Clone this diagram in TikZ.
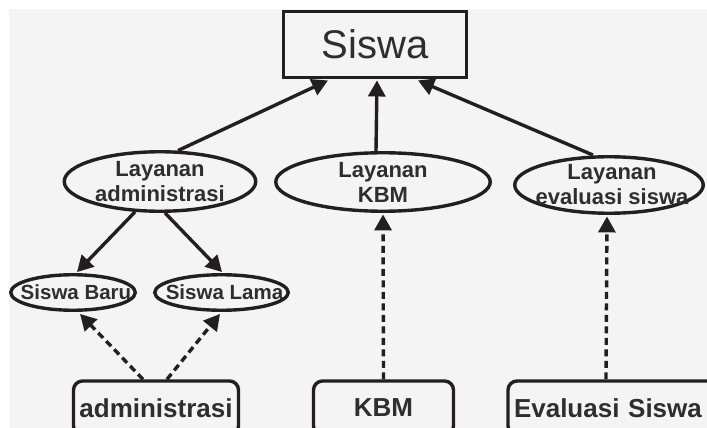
\documentclass[tikz,border=0pt]{standalone}
\usepackage{fontspec}
\setmainfont{Liberation Sans}
\usetikzlibrary{arrows.meta,shapes.geometric,calc}
\definecolor{bg}{HTML}{F4F4F4}
\definecolor{ink}{HTML}{231F20}
\definecolor{txt}{HTML}{2E2E2E}
\begin{document}
\begin{tikzpicture}[x=1pt,y=-1pt,
  thickline/.style={draw=ink, line width=3.4pt},
  arr/.style={thickline, -{Triangle[length=16pt,width=17pt]}},
  darr/.style={arr, dash pattern=on 7pt off 4.5pt},
  titlebox/.style={rectangle, thickline, inner sep=0pt, text=txt, font=\fontsize{40}{44}\selectfont},
  oval/.style={ellipse, thickline, inner sep=0pt},
  ovaltext/.style={align=center, text=txt, inner sep=0pt, font=\fontsize{22}{25}\selectfont\bfseries},
  smalltext/.style={text=txt, inner sep=0pt, font=\fontsize{20.5}{23}\selectfont\bfseries},
  roundbox/.style={rectangle, rounded corners=9pt, thickline, inner sep=0pt, minimum height=54pt, text=txt, font=\fontsize{26}{30}\selectfont\bfseries}
]
\path[use as bounding box] (0,0) rectangle (707,428);
\clip (0,0) rectangle (707,428);
\fill[bg] (9,9) rectangle (707,428);

% top
\node[titlebox, minimum width=182.5pt, minimum height=65.5pt] (siswa) at (375,44.5) {Siswa};

% middle ovals
\node[oval, minimum width=191.5pt, minimum height=59.5pt,
  label={[ovaltext]center:Layanan\\administrasi}] (adm) at (160,181.5) {};
\node[oval, minimum width=214.5pt, minimum height=58.5pt,
  label={[ovaltext]center:Layanan\\KBM}] (lkbm) at (383,182) {};
\node[oval, minimum width=188.5pt, minimum height=56.5pt,
  label={[ovaltext, xshift=3pt]center:Layanan\\evaluasi siswa}] (leval) at (609,185) {};

% small ovals
\node[oval, minimum width=124.5pt, minimum height=35.5pt,
  label={[smalltext, xshift=3pt]center:Siswa Baru}] (baru) at (73,292.5) {};
\node[oval, minimum width=133.5pt, minimum height=35.5pt,
  label={[smalltext, xshift=3pt]center:Siswa Lama}] (lama) at (221.5,292.5) {};

% bottom boxes
\node[roundbox, minimum width=165pt] (abox) at (156,408) {administrasi};
\node[roundbox, minimum width=140pt] (kbox) at (383.5,408) {KBM};
\node[roundbox, text width=200pt, align=left, inner xsep=6pt] (ebox) at (614,408) {Evaluasi Siswa};

% solid arrows to Siswa
\draw[arr] ($(adm.north)+(18,0.5)$) -- ($(siswa.south)+(-47,1.5)$);
\draw[arr] ($(lkbm.north)+(-7,0)$) -- ($(siswa.south)+(2,1.5)$);
\draw[arr] ($(leval.north)+(-16,0)$) -- ($(siswa.south)+(43,1.5)$);

% solid arrows to small ovals
\draw[arr] ($(adm.south)+(-25,-1)$) -- ($(baru.north)+(4,-1)$);
\draw[arr] ($(adm.south)+(5,0)$) -- ($(lama.north)+(0.5,-1)$);

% dashed arrows
\draw[darr] ($(abox.north)+(-13,0)$) -- ($(baru.south)+(7,2)$);
\draw[darr] ($(abox.north)+(11,0)$) -- ($(lama.south)+(-1.5,2)$);
\draw[darr] (kbox.north) -- ($(lkbm.south)+(0,1.5)$);
\draw[darr] ($(ebox.north)+(-8,0)$) -- ($(leval.south)+(-2,1.5)$);
\end{tikzpicture}
\end{document}
